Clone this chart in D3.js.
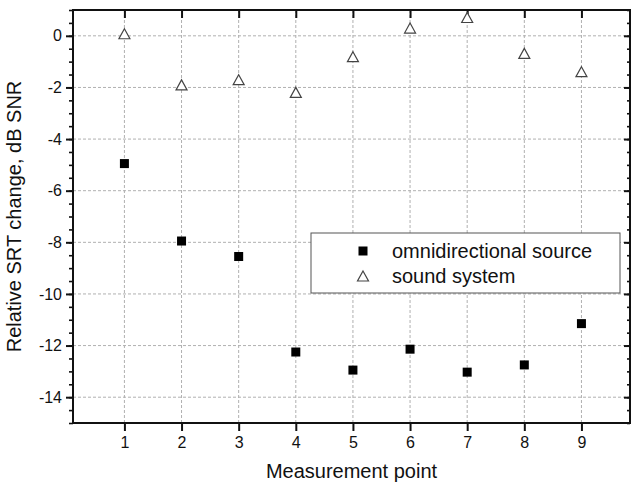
<!DOCTYPE html>
<html>
<head>
<meta charset="utf-8">
<script src="https://cdnjs.cloudflare.com/ajax/libs/d3/7.8.5/d3.min.js"></script>
<style>
  body { margin: 0; background: #fff; }
  svg { display: block; font-family: "Liberation Sans", Arial, sans-serif; }
  .grid line { stroke: #b0b0b0; stroke-width: 1; stroke-dasharray: 3,2; }
  .axis path { display: none; }
  .axis line { stroke: #111; stroke-width: 2; }
  .axis.minor line { stroke-width: 1.6; }
  .axis text { font-family: "Liberation Sans", Arial, sans-serif; font-size: 16px; fill: #111; }
</style>
</head>
<body>
<div id="chart"></div>
<script>
// data
var points = [1, 2, 3, 4, 5, 6, 7, 8, 9];
var omniSource = [-4.95, -7.95, -8.55, -12.25, -12.95, -12.14, -13.03, -12.75, -11.15];
var soundSystem = [0.08, -1.9, -1.7, -2.19, -0.81, 0.3, 0.71, -0.68, -1.39];
var yTicks = [0, -2, -4, -6, -8, -10, -12, -14];
var yMinorTicks = d3.range(-15, 1.01, 0.5);
var seriesNames = ["omnidirectional source", "sound system"];

(function() {
    'use strict';

    draw();

    function draw() {
        var margin = {top: 10, right: 1, bottom: 67, left: 73},
            width = 631 - margin.left - margin.right,
            height = 490 - margin.top - margin.bottom;

        // setup x
        var xScale = d3.scaleLinear().domain([0.1, 9.85]).range([0, width]);

        // setup y
        var yScale = d3.scaleLinear().domain([-15, 1]).range([height, 0]);

        // plain hyphen minus like the original
        var fmt = function(d) { return String(d); };

        var svg = d3.select("#chart").append("svg")
            .attr("width", 631)
            .attr("height", 490)
          .append("g")
            .attr("transform", "translate(" + margin.left + "," + margin.top + ")");

        // dashed grid
        var grid = svg.append("g").attr("class", "grid");
        grid.selectAll(".gx")
            .data(points)
          .enter().append("line")
            .attr("x1", function(d) { return xScale(d); })
            .attr("x2", function(d) { return xScale(d); })
            .attr("y1", 0)
            .attr("y2", height);
        grid.selectAll(".gy")
            .data(yTicks)
          .enter().append("line")
            .attr("x1", 0)
            .attr("x2", width)
            .attr("y1", function(d) { return yScale(d); })
            .attr("y2", function(d) { return yScale(d); });

        // x-axis, bottom with labels, top with inward ticks
        svg.append("g")
            .attr("class", "x axis")
            .attr("transform", "translate(0," + height + ")")
            .call(d3.axisBottom(xScale).tickValues(points).tickSize(8).tickSizeOuter(0).tickPadding(6).tickFormat(fmt));
        svg.append("g")
            .attr("class", "x axis")
            .call(d3.axisBottom(xScale).tickValues(points).tickSize(8).tickSizeOuter(0).tickFormat(""));

        // y-axis, left outward ticks and right inward ticks
        svg.append("g")
            .attr("class", "y axis minor")
            .call(d3.axisLeft(yScale).tickValues(yMinorTicks).tickSize(4).tickSizeOuter(0).tickFormat(""));
        svg.append("g")
            .attr("class", "y axis")
            .call(d3.axisLeft(yScale).tickValues(yTicks).tickSize(7).tickSizeOuter(0).tickPadding(4).tickFormat(fmt));
        svg.append("g")
            .attr("class", "y axis minor")
            .attr("transform", "translate(" + width + ",0)")
            .call(d3.axisLeft(yScale).tickValues(yMinorTicks).tickSize(3).tickSizeOuter(0).tickFormat(""));
        svg.append("g")
            .attr("class", "y axis")
            .attr("transform", "translate(" + width + ",0)")
            .call(d3.axisLeft(yScale).tickValues(yTicks).tickSize(6).tickSizeOuter(0).tickFormat(""));

        // frame
        svg.append("rect")
            .attr("width", width)
            .attr("height", height)
            .style("fill", "none")
            .style("stroke", "#111")
            .style("stroke-width", 2);

        // axis titles
        svg.append("text")
            .attr("x", width / 2)
            .attr("y", height + 55)
            .style("text-anchor", "middle")
            .style("font-size", "20px")
            .style("fill", "#111")
            .text("Measurement point");
        svg.append("text")
            .attr("transform", "rotate(-90)")
            .attr("x", -height / 2)
            .attr("y", -52)
            .style("text-anchor", "middle")
            .style("font-size", "20px")
            .style("fill", "#111")
            .text("Relative SRT change, dB SNR");

        var triangle = "M0,-5L5.5,5L-5.5,5Z";

        // draw squares
        svg.selectAll(".sq")
            .data(omniSource)
          .enter().append("rect")
            .attr("class", "sq")
            .attr("x", function(d, i) { return xScale(points[i]) - 4.5; })
            .attr("y", function(d) { return yScale(d) - 4.5; })
            .attr("width", 9)
            .attr("height", 9)
            .style("fill", "#000");

        // draw triangles
        svg.selectAll(".tri")
            .data(soundSystem)
          .enter().append("path")
            .attr("class", "tri")
            .attr("d", triangle)
            .attr("transform", function(d, i) { return "translate(" + xScale(points[i]) + "," + yScale(d) + ")"; })
            .style("fill", "#fff")
            .style("stroke", "#444")
            .style("stroke-width", 1.2);

        // draw legend
        var legend = svg.append("g")
            .attr("transform", "translate(238,223)");
        legend.append("rect")
            .attr("width", 309)
            .attr("height", 60)
            .style("fill", "#fff")
            .style("stroke", "#555")
            .style("stroke-width", 1);

        var item = legend.selectAll(".legend")
            .data(seriesNames)
          .enter().append("g")
            .attr("class", "legend")
            .attr("transform", function(d, i) { return "translate(52," + (18 + i * 25) + ")"; });

        item.filter(function(d, i) { return i === 0; })
          .append("rect")
            .attr("x", -4.5)
            .attr("y", -4.5)
            .attr("width", 9)
            .attr("height", 9)
            .style("fill", "#000");
        item.filter(function(d, i) { return i === 1; })
          .append("path")
            .attr("d", triangle)
            .style("fill", "#fff")
            .style("stroke", "#444")
            .style("stroke-width", 1.2);

        item.append("text")
            .attr("x", 29)
            .attr("dy", ".35em")
            .style("font-size", "20px")
            .style("fill", "#111")
            .text(function(d) { return d; });
    }
})();
</script>
</body>
</html>
